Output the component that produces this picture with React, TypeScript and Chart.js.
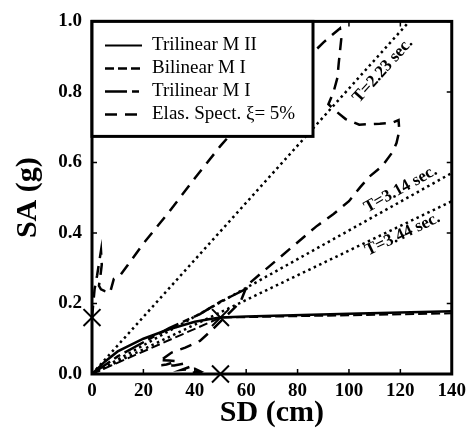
import React, { useEffect, useRef } from 'react';
import { Chart, registerables } from 'chart.js';

Chart.register(...registerables);

const FONT = '"Liberation Serif", "Times New Roman", serif';

// Axis ticks
const X_TICKS = [0, 20, 40, 60, 80, 100, 120, 140];
const Y_TICKS = [0, 0.2, 0.4, 0.6, 0.8, 1.0];

// Trilinear M II (solid)
const TRI2_SD = [0, 5, 10, 20, 30, 40, 46, 50, 60, 100, 140];
const TRI2_SA = [0, 0.035, 0.064, 0.1, 0.127, 0.148, 0.156, 0.16, 0.163, 0.171, 0.178];

// Bilinear M I (short dashes)
const BIL_SD = [0, 50, 140];
const BIL_SA = [0, 0.16, 0.172];

// Trilinear M I (dash-dot)
const TRI1_SD = [0, 10, 20, 30, 42, 50, 61];
const TRI1_SA = [0, 0.05, 0.09, 0.13, 0.17, 0.205, 0.245];

// Elastic spectrum, xi = 5% (long dashes)
const ELAS_SD = [0, 0.5, 1, 2, 3.5, 3.8, 3.3, 2.7, 3.5, 5, 7, 8.5, 11, 14, 16, 20, 30, 40, 50, 54, 65, 75, 85.3, 90, 94, 96.5, 97, 96, 95.5, 94, 92, 95, 98.7, 104, 112, 117, 119.3, 119.6, 118.5, 117, 113, 108, 104.4, 100, 94, 87.2, 79.6, 73, 67, 60.4, 57.8, 54, 51.5, 46.3, 42, 36.3, 31, 28, 26, 30, 33, 29, 27, 32, 36, 38, 35, 40, 42, 38, 43];
const ELAS_SA = [0.16, 0.2, 0.24, 0.28, 0.35, 0.31, 0.28, 0.25, 0.24, 0.235, 0.23, 0.27, 0.28, 0.31, 0.33, 0.37, 0.46, 0.555, 0.647, 0.68, 0.77, 0.84, 0.906, 0.94, 0.965, 0.98, 0.95, 0.88, 0.84, 0.8, 0.765, 0.745, 0.723, 0.707, 0.71, 0.713, 0.72, 0.69, 0.655, 0.63, 0.59, 0.56, 0.53, 0.49, 0.454, 0.418, 0.371, 0.33, 0.293, 0.252, 0.205, 0.177, 0.16, 0.122, 0.094, 0.075, 0.061, 0.045, 0.04, 0.038, 0.036, 0.027, 0.025, 0.024, 0.03, 0.02, 0.012, 0.015, 0.008, 0.005, 0.003];

// Constant-period lines (dotted)
const T223_SD = [0, 123.5];
const T223_SA = [0, 1.0];
const T314_SD = [0, 140];
const T314_SA = [0, 0.57];
const T344_SD = [0, 140];
const T344_SA = [0, 0.49];

// Cross markers
const CROSS_SD = [0, 50, 50];
const CROSS_SA = [0.16, 0.16, 0];

// Period labels
const T_LABELS = ['T=2.23 sec.', 'T=3.14 sec.', 'T=3.44 sec.'];
const T_LABEL_SD = [113.2, 120.1, 120.9];
const T_LABEL_SA = [0.861, 0.524, 0.396];

// Legend
const LEGEND_LABELS = ['Trilinear M II', 'Bilinear M I', 'Trilinear M I', 'Elas. Spect. \u03BE= 5%'];
const LEGEND_DASHES: number[][] = [[], [9, 4], [22, 5, 7, 5], [12, 8]];

const zip = (xs: number[], ys: number[]) => xs.map((x, i) => ({ x, y: ys[i] }));

const framePlugin = {
  id: 'frameLegend',
  afterDatasetsDraw(chart: any) {
    const { ctx, chartArea: a, scales } = chart;
    const xs = scales.x;
    const ys = scales.y;
    ctx.save();
    // period labels
    const lines = [
      [T223_SD, T223_SA],
      [T314_SD, T314_SA],
      [T344_SD, T344_SA],
    ];
    ctx.fillStyle = '#000';
    ctx.font = `bold 17px ${FONT}`;
    ctx.textAlign = 'center';
    ctx.textBaseline = 'middle';
    T_LABELS.forEach((t, i) => {
      const [lx, ly] = lines[i];
      const dx = xs.getPixelForValue(lx[1]) - xs.getPixelForValue(lx[0]);
      const dy = ys.getPixelForValue(ly[1]) - ys.getPixelForValue(ly[0]);
      const ang = Math.atan2(dy, dx);
      ctx.save();
      ctx.translate(xs.getPixelForValue(T_LABEL_SD[i]), ys.getPixelForValue(T_LABEL_SA[i]));
      ctx.rotate(ang);
      ctx.fillText(t, 0, 0);
      ctx.restore();
    });

    // frame
    ctx.strokeStyle = '#000';
    ctx.lineWidth = 3;
    ctx.setLineDash([]);
    ctx.strokeRect(a.left, a.top, a.right - a.left, a.bottom - a.top);
    // inner ticks
    ctx.lineWidth = 1.5;
    X_TICKS.forEach((v) => {
      const px = xs.getPixelForValue(v);
      ctx.beginPath();
      ctx.moveTo(px, a.bottom);
      ctx.lineTo(px, a.bottom - 5);
      ctx.moveTo(px, a.top);
      ctx.lineTo(px, a.top + 5);
      ctx.stroke();
    });
    Y_TICKS.forEach((v) => {
      const py = ys.getPixelForValue(v);
      ctx.beginPath();
      ctx.moveTo(a.left, py);
      ctx.lineTo(a.left + 5, py);
      ctx.moveTo(a.right, py);
      ctx.lineTo(a.right - 5, py);
      ctx.stroke();
    });

    // legend box
    const bx = a.left;
    const by = a.top;
    const bw = 221;
    const bh = 115;
    ctx.fillStyle = '#fff';
    ctx.fillRect(bx, by, bw, bh);
    ctx.lineWidth = 3;
    ctx.strokeStyle = '#000';
    ctx.strokeRect(bx, by, bw, bh);
    ctx.font = `19px ${FONT}`;
    ctx.fillStyle = '#000';
    ctx.textAlign = 'left';
    ctx.textBaseline = 'middle';
    LEGEND_LABELS.forEach((lab, i) => {
      const ry = by + 24 + i * 23;
      ctx.save();
      ctx.lineWidth = i === 0 ? 2 : 2.5;
      ctx.setLineDash(LEGEND_DASHES[i]);
      ctx.beginPath();
      ctx.moveTo(bx + 13, ry);
      ctx.lineTo(bx + 50, ry);
      ctx.stroke();
      ctx.restore();
      ctx.fillText(lab, bx + 60, ry);
    });
    ctx.restore();
  },
};

export default function App() {
  const ref = useRef<HTMLCanvasElement>(null);
  useEffect(() => {
    document.body.style.margin = '0';
    const canvas = ref.current;
    if (!canvas) return;
    const lineDs = (label: string, sd: number[], sa: number[], dash: number[], width: number) => ({
      label,
      data: zip(sd, sa),
      showLine: true,
      borderColor: '#000',
      backgroundColor: '#000',
      borderWidth: width,
      borderDash: dash,
      pointRadius: 0,
      tension: 0,
      fill: false,
    });
    const chart = new Chart(canvas, {
      type: 'scatter',
      data: {
        datasets: [
          lineDs('T=2.23', T223_SD, T223_SA, [2.5, 3.5], 2.5),
          lineDs('T=3.14', T314_SD, T314_SA, [2.5, 3.5], 2.5),
          lineDs('T=3.44', T344_SD, T344_SA, [2.5, 3.5], 2.5),
          lineDs('Elastic', ELAS_SD, ELAS_SA, [12, 8], 2.5),
          lineDs('Trilinear M I', TRI1_SD, TRI1_SA, [22, 5, 7, 5], 2.5),
          lineDs('Bilinear M I', BIL_SD, BIL_SA, [9, 4], 2),
          lineDs('Trilinear M II', TRI2_SD, TRI2_SA, [], 2.5),
          {
            label: 'cross',
            data: zip(CROSS_SD, CROSS_SA),
            showLine: false,
            pointStyle: 'crossRot',
            pointRadius: 12,
            pointBorderWidth: 2,
            borderColor: '#000',
            backgroundColor: '#000',
            clip: false,
          } as any,
        ],
      },
      options: {
        responsive: false,
        animation: false,
        events: [],
        layout: { padding: { top: 13, right: 14, left: 0, bottom: 0 } },
        plugins: { legend: { display: false }, tooltip: { enabled: false } },
        scales: {
          x: {
            type: 'linear',
            min: 0,
            max: 140,
            afterBuildTicks: (s: any) => {
              s.ticks = X_TICKS.map((v) => ({ value: v }));
            },
            afterFit: (s: any) => {
              s.height = 71;
            },
            grid: { display: false, drawTicks: false },
            border: { display: false },
            ticks: {
              padding: 6,
              color: '#000',
              font: { family: FONT, size: 19, weight: 'bold' },
              maxRotation: 0,
            },
            title: {
              display: true,
              text: 'SD (cm)',
              color: '#000',
              font: { family: FONT, size: 30, weight: 'bold' },
              padding: { top: 0, bottom: 14 },
            },
          },
          y: {
            type: 'linear',
            min: 0,
            max: 1,
            afterBuildTicks: (s: any) => {
              s.ticks = Y_TICKS.map((v) => ({ value: v }));
            },
            afterFit: (s: any) => {
              s.width = 92;
            },
            grid: { display: false, drawTicks: false },
            border: { display: false },
            ticks: {
              padding: 10,
              color: '#000',
              font: { family: FONT, size: 19, weight: 'bold' },
              callback: (v: any) => Number(v).toFixed(1),
            },
            title: {
              display: true,
              text: 'SA (g)',
              color: '#000',
              font: { family: FONT, size: 30, weight: 'bold' },
              padding: { top: 10, bottom: 0 },
            },
          },
        },
      },
      plugins: [framePlugin],
    } as any);
    return () => chart.destroy();
  }, []);
  return <canvas ref={ref} width={472} height={445} style={{ display: 'block' }} />;
}
